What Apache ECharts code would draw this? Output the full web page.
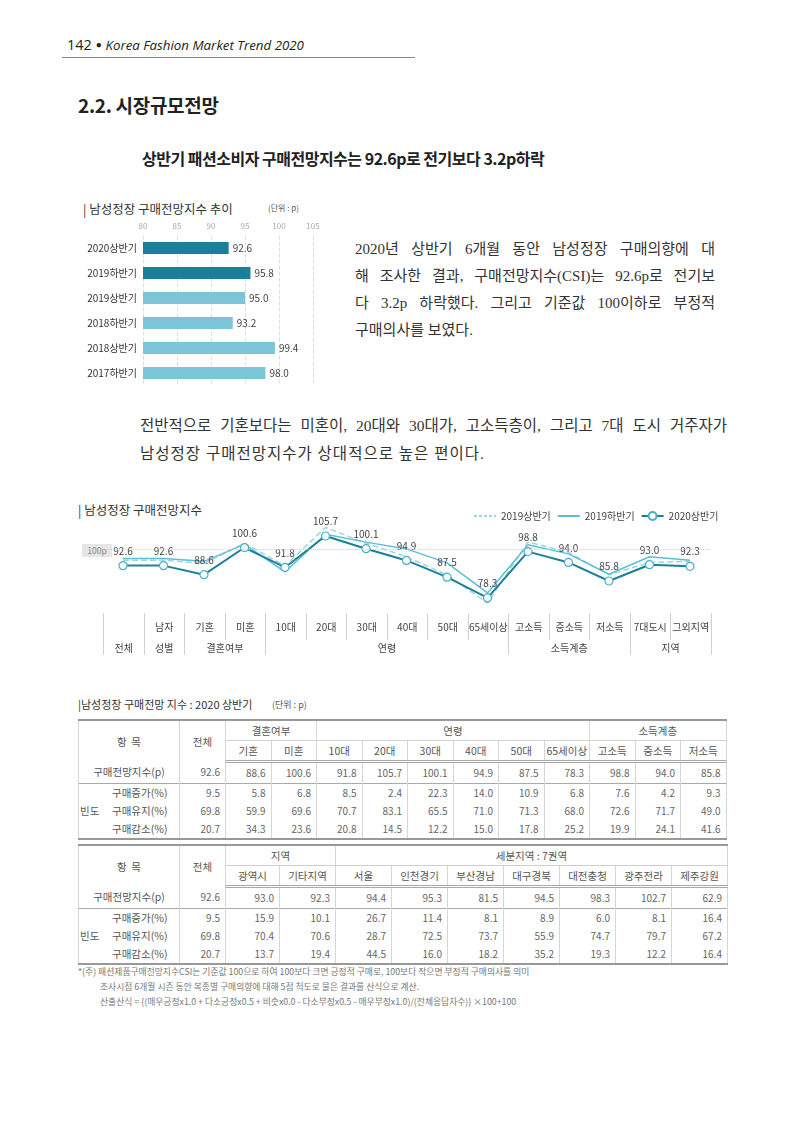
<!DOCTYPE html>
<html>
<head>
<meta charset="utf-8">
<script src="https://cdn.jsdelivr.net/npm/echarts@6/dist/echarts.min.js"></script>
<style>
body { margin: 0; background: #fff; font-family: "Noto Sans CJK KR", sans-serif; color: #333; }
#page { position: relative; width: 800px; height: 1131px; overflow: hidden; }
.abs { position: absolute; white-space: nowrap; }
.serif { font-family: "Liberation Serif", "Noto Sans CJK KR", serif; font-size: 15px; color: #333; }
.just { text-align: justify; text-align-last: justify; }
table { border-collapse: collapse; table-layout: fixed; position: absolute; }
.tb { font-size: 10.5px; color: #555; border-top: 2px solid #999; border-bottom: 2px solid #999; }
.tb td { border-left: 1px solid #d6d6d6; border-right: 1px solid #d6d6d6; padding: 0; text-align: center; white-space: nowrap; overflow: hidden; }
.tb td.v { text-align: right; padding-right: 5px; font-size: 10px; color: #666; }
.tb td.grp { border-bottom: 1px solid #d0d0d0; }
.tb tr.h2 td { border-bottom: 3px double #aaa; }
.tb tr.f1 td { border-top: 1px solid #aaa; }
.tb td.nb { border-right: none; }
.tb td.nl { border-left: none; }
.ct { font-size: 10px; color: #444; }
.ct td { border-left: 1px solid #d0d0d0; border-right: 1px solid #d0d0d0; text-align: center; padding: 0; white-space: nowrap; }
.foot { font-size: 8.8px; color: #777; }
</style>
</head>
<body>
<div id="page">
  <!-- 머리말 -->
  <div class="abs" style="left:67px;top:35px;font-family:'Open Sans';font-size:14.5px;color:#222;">142 <span style="font-size:10px;vertical-align:2px;">&#9679;</span> <i style="font-size:13.3px;">Korea Fashion Market Trend 2020</i></div>
  <div class="abs" style="left:62px;top:57px;width:353px;height:0;border-top:1.5px solid #888;"></div>

  <div class="abs" style="left:78px;top:91px;font-size:19px;font-weight:bold;color:#222;letter-spacing:-0.3px;">2.2. 시장규모전망</div>
  <div class="abs" style="left:142px;top:146px;font-size:16px;font-weight:bold;color:#222;letter-spacing:-0.5px;">상반기 패션소비자 구매전망지수는 92.6p로 전기보다 3.2p하락</div>

  <!-- 막대그래프 -->
  <div class="abs" style="left:83px;top:199px;font-size:12.5px;color:#333;">| 남성정장 구매전망지수 추이</div>
  <div class="abs" style="left:268px;top:202px;font-size:8px;color:#555;">(단위 : p)</div>
  <div id="bar" class="abs" style="left:0;top:190px;width:340px;height:200px;"></div>

  <div class="abs serif just" style="left:355px;top:237px;width:360px;">2020년 상반기 6개월 동안 남성정장 구매의향에 대</div>
  <div class="abs serif just" style="left:355px;top:264px;width:360px;">해 조사한 결과, 구매전망지수(CSI)는 92.6p로 전기보</div>
  <div class="abs serif just" style="left:355px;top:291px;width:360px;">다 3.2p 하락했다. 그리고 기준값 100이하로 부정적</div>
  <div class="abs serif" style="left:355px;top:318px;">구매의사를 보였다.</div>

  <div class="abs serif just" style="left:140px;top:413px;width:587px;font-size:15.5px;">전반적으로 기혼보다는 미혼이, 20대와 30대가, 고소득층이, 그리고 7대 도시 거주자가</div>
  <div class="abs serif" style="left:140px;top:441px;font-size:15.5px;letter-spacing:1px;">남성정장 구매전망지수가 상대적으로 높은 편이다.</div>

  <!-- 꺾은선그래프 -->
  <div class="abs" style="left:78px;top:500px;font-size:12.5px;color:#333;">| 남성정장 구매전망지수</div>
  <div class="abs" style="left:82px;top:544px;width:30px;height:13px;background:#e6e6e6;font-size:8.5px;color:#888;text-align:center;line-height:13px;">100p</div>
  <div id="line" class="abs" style="left:0;top:495px;width:800px;height:125px;"></div>
  <table id="cats" class="ct" style="left:103px;top:613px;"></table>

  <!-- 표 -->
  <div class="abs" style="left:78px;top:696px;font-size:11px;color:#333;">|남성정장 구매전망 지수 : 2020 상반기</div>
  <div class="abs" style="left:272px;top:698px;font-size:9px;color:#555;">(단위 : p)</div>
  <table id="t1" class="tb" style="left:78px;top:719px;"></table>
  <table id="t2" class="tb" style="left:78px;top:844px;"></table>

  <div class="abs foot" style="left:78px;top:965px;">*(주) 패션제품구매전망지수CSI는 기준값 100으로 하여 100보다 크면 긍정적 구매로, 100보다 작으면 부정적 구매의사를 의미</div>
  <div class="abs foot" style="left:100px;top:980px;">조사시점 6개월 시즌 동안 복종별 구매의향에 대해 5점 척도로 물은 결과를 산식으로 계산.</div>
  <div class="abs foot" style="left:100px;top:995px;">산출산식 = {(매우긍정x1.0 + 다소긍정x0.5 + 비슷x0.0 - 다소부정x0.5 - 매우부정x1.0)/(전체응답자수)} ×100+100</div>
</div>

<script>
// 1. 막대그래프 데이터
const barCats = ['2020상반기', '2019하반기', '2019상반기', '2018하반기', '2018상반기', '2017하반기']
const barVals = [92.6, 95.8, 95.0, 93.2, 99.4, 98.0]
const barMin = 80
const barMax = 105

// 2. 꺾은선그래프 데이터
const lineCats = ['전체', '남자', '기혼', '미혼', '10대', '20대', '30대', '40대', '50대', '65세이상', '고소득', '중소득', '저소득', '7대도시', '그외지역']
const lineGroups = [['전체', 1], ['성별', 1], ['결혼여부', 2], ['연령', 6], ['소득계층', 3], ['지역', 2]]
const h2019a = [95.0, 95.0, 93.5, 102.5, 92.5, 109.5, 102.5, 96.5, 88.5, 76.0, 103.0, 98.5, 88.5, 94.0, 94.5]
const h2019b = [95.8, 95.8, 94.5, 102.0, 89.8, 106.5, 103.0, 100.0, 93.8, 80.5, 101.8, 97.8, 88.8, 96.5, 95.0]
const h2020a = [92.6, 92.6, 88.6, 100.6, 91.8, 105.7, 100.1, 94.9, 87.5, 78.3, 98.8, 94.0, 85.8, 93.0, 92.3]

// 3. 표 데이터
const t1Groups = [['결혼여부', 2], ['연령', 6], ['소득계층', 3]]
const t1Cols = ['기혼', '미혼', '10대', '20대', '30대', '40대', '50대', '65세이상', '고소득', '중소득', '저소득']
const t1Csi = [92.6, 88.6, 100.6, 91.8, 105.7, 100.1, 94.9, 87.5, 78.3, 98.8, 94.0, 85.8]
const t1Up = [9.5, 5.8, 6.8, 8.5, 2.4, 22.3, 14.0, 10.9, 6.8, 7.6, 4.2, 9.3]
const t1Keep = [69.8, 59.9, 69.6, 70.7, 83.1, 65.5, 71.0, 71.3, 68.0, 72.6, 71.7, 49.0]
const t1Down = [20.7, 34.3, 23.6, 20.8, 14.5, 12.2, 15.0, 17.8, 25.2, 19.9, 24.1, 41.6]

const t2Groups = [['지역', 2], ['세분지역 : 7권역', 7]]
const t2Cols = ['광역시', '기타지역', '서울', '인천경기', '부산경남', '대구경북', '대전충청', '광주전라', '제주강원']
const t2Csi = [92.6, 93.0, 92.3, 94.4, 95.3, 81.5, 94.5, 98.3, 102.7, 62.9]
const t2Up = [9.5, 15.9, 10.1, 26.7, 11.4, 8.1, 8.9, 6.0, 8.1, 16.4]
const t2Keep = [69.8, 70.4, 70.6, 28.7, 72.5, 73.7, 55.9, 74.7, 79.7, 67.2]
const t2Down = [20.7, 13.7, 19.4, 44.5, 16.0, 18.2, 35.2, 19.3, 12.2, 16.4]

const fontKr = '"Noto Sans CJK KR", sans-serif'

// 막대그래프
let barChart = echarts.init(document.querySelector('#bar'))
barChart.setOption({
    animation: false,
    textStyle: { fontFamily: fontKr },
    grid: { left: 143, width: 170, top: 45.5, height: 150 },
    xAxis: {
        type: 'value', position: 'top', min: barMin, max: barMax, interval: 5,
        axisLine: { show: false }, axisTick: { show: false },
        axisLabel: { fontSize: 8, color: '#aaa', margin: 6 },
        splitLine: { lineStyle: { type: 'dashed', color: '#ddd' } }
    },
    yAxis: {
        type: 'category', data: barCats, inverse: true,
        axisLine: { show: false }, axisTick: { show: false },
        axisLabel: { fontSize: 10, color: '#333', margin: 6 }
    },
    series: [{
        type: 'bar', data: barVals, barWidth: 12,
        itemStyle: {
            // 최근 두 기간은 진한 색
            color: function (p) { return p.dataIndex < 2 ? '#1a7f9b' : '#7cc5d9' }
        },
        label: { show: true, position: 'right', distance: 4, fontSize: 10, color: '#444', formatter: function (p) { return p.value.toFixed(1) } }
    }]
})

// 꺾은선그래프
let lineChart = echarts.init(document.querySelector('#line'))
lineChart.setOption({
    animation: false,
    textStyle: { fontFamily: fontKr },
    grid: { left: 102.75, width: 607.5, top: 20, height: 101.7 },
    legend: {
        left: 468, top: 11, itemWidth: 22, itemHeight: 10, itemGap: 6,
        textStyle: { fontSize: 10, color: '#444' },
        data: [
            // 2019년 두 계열은 범례에 선만 표시
            { name: '2019상반기', itemStyle: { opacity: 0 }, lineStyle: { type: [3, 2] } },
            { name: '2019하반기', itemStyle: { opacity: 0 } },
            { name: '2020상반기' }
        ]
    },
    xAxis: { type: 'category', data: lineCats, show: false },
    yAxis: { type: 'value', min: 70, max: 115, show: false },
    series: [
        {
            name: '2019상반기', type: 'line', data: h2019a, symbol: 'none',
            lineStyle: { color: '#9ed5e4', width: 1.5, type: 'dashed' }, itemStyle: { color: '#9ed5e4' }
        },
        {
            name: '2019하반기', type: 'line', data: h2019b, symbol: 'none',
            lineStyle: { color: '#5ebfd4', width: 1.5 }, itemStyle: { color: '#5ebfd4' }
        },
        {
            name: '2020상반기', type: 'line', data: h2020a, symbol: 'circle', symbolSize: 8,
            lineStyle: { color: '#1c809b', width: 2 },
            itemStyle: { color: '#fff', borderColor: '#4aaec6', borderWidth: 1.2 },
            label: { show: true, position: 'top', distance: 5, fontSize: 10, color: '#444', formatter: function (p) { return p.value.toFixed(1) } },
            markLine: {
                silent: true, symbol: 'none', label: { show: false },
                lineStyle: { color: '#ccc', type: 'dotted', width: 1 },
                data: [{ yAxis: 100 }]
            }
        }
    ]
})

// 그래프 아래 분류표
let str = '<colgroup>'
for (let i = 0; i < lineCats.length; i++) str += '<col style="width:40.5px">'
str += '</colgroup><tr style="height:27px">'
for (let i = 0; i < lineCats.length; i++) {
    str += '<td>' + (i == 0 ? '' : lineCats[i]) + '</td>'
}
str += '</tr><tr style="height:15px">'
lineGroups.forEach(function (g) {
    str += '<td colspan="' + g[1] + '">' + g[0] + '</td>'
})
str += '</tr>'
document.querySelector('#cats').innerHTML = str

// 표 만들기
function makeTable(el, widths, groups, cols, csi, up, keep, down, h) {
    let s = '<colgroup>'
    widths.forEach(function (w) { s += '<col style="width:' + w + 'px">' })
    s += '</colgroup>'
    s += '<tr style="height:' + h[0] + 'px"><td colspan="2" rowspan="2">항 &nbsp;목</td><td rowspan="2">전체</td>'
    groups.forEach(function (g) { s += '<td class="grp" colspan="' + g[1] + '">' + g[0] + '</td>' })
    s += '</tr><tr class="h2" style="height:' + h[1] + 'px">'
    cols.forEach(function (c) { s += '<td>' + c + '</td>' })
    s += '</tr><tr style="height:' + h[2] + 'px"><td colspan="2">구매전망지수(p)</td>'
    csi.forEach(function (v) { s += '<td class="v">' + v.toFixed(1) + '</td>' })
    s += '</tr>'
    let rows = [['구매증가(%)', up], ['구매유지(%)', keep], ['구매감소(%)', down]]
    rows.forEach(function (r, k) {
        s += '<tr' + (k == 0 ? ' class="f1"' : '') + ' style="height:' + h[3] + 'px">'
        if (k == 0) s += '<td rowspan="3" class="nb">빈도</td>'
        s += '<td class="nl">' + r[0] + '</td>'
        r[1].forEach(function (v) { s += '<td class="v">' + v.toFixed(1) + '</td>' })
        s += '</tr>'
    })
    document.querySelector(el).innerHTML = s
}

let w1 = [22, 79, 46]
for (let i = 0; i < t1Cols.length; i++) w1.push(45.5)
makeTable('#t1', w1, t1Groups, t1Cols, t1Csi, t1Up, t1Keep, t1Down, [20, 21, 22, 18.6])

let w2 = [22, 79, 46, 54, 56]
for (let i = 2; i < t2Cols.length; i++) w2.push(56)
makeTable('#t2', w2, t2Groups, t2Cols, t2Csi, t2Up, t2Keep, t2Down, [20, 21, 22, 18.6])
</script>
</body>
</html>
